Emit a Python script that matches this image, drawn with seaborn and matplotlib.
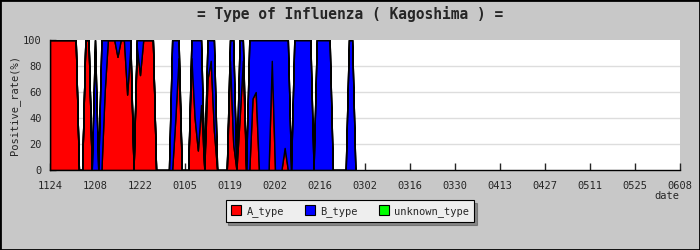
import matplotlib
matplotlib.use("Agg")
import matplotlib.pyplot as plt
import seaborn as sns
import numpy as np
from matplotlib.patches import Rectangle, Patch

# ---- data (percent per day, starting 11/24) ----
a_type = [100, 100, 100, 100, 100, 100, 100, 100, 100, 0,
          0, 100, 100, 0, 0, 0, 0, 60, 100, 100,
          100, 87, 100, 100, 58, 95, 0, 95, 73, 100,
          100, 100, 100, 0, 0, 0, 0, 0, 0, 40,
          86, 0, 0, 0, 86, 40, 15, 50, 0, 70,
          84, 30, 0, 0, 0, 0, 84, 20, 0, 40,
          84, 0, 0, 55, 60, 0, 0, 0, 0, 84,
          0, 0, 0, 17, 0, 0, 0, 0, 0, 0,
          0, 0, 0, 0, 0, 0, 0, 0, 0, 0,
          0, 0, 0, 0, 0, 0]
b_type = [0, 0, 0, 0, 0, 0, 0, 0, 0, 0,
          0, 0, 0, 0, 100, 0, 100, 40, 0, 0,
          0, 13, 0, 0, 42, 5, 0, 5, 27, 0,
          0, 0, 0, 0, 0, 0, 0, 0, 100, 60,
          14, 0, 0, 0, 14, 60, 85, 50, 0, 30,
          16, 70, 0, 0, 0, 0, 16, 80, 0, 60,
          16, 0, 100, 45, 40, 100, 100, 100, 100, 16,
          100, 100, 100, 83, 100, 0, 100, 100, 100, 100,
          100, 100, 0, 100, 100, 100, 100, 100, 0, 0,
          0, 0, 0, 100, 100, 0]
unknown_type = [0] * len(a_type)
tick_labels = ["1124", "1208", "1222", "0105", "0119", "0202", "0216", "0302",
               "0316", "0330", "0413", "0427", "0511", "0525", "0608"]
series_names = ["A_type", "B_type", "unknown_type"]
series_colors = ["#ff0000", "#0000ff", "#00ff00"]

sns.set_style("white")
plt.rcParams['font.family'] = ['DejaVu Sans Mono', 'DejaVu Sans']

days = np.arange(len(a_type))
fig = plt.figure(figsize=(7, 2.5), dpi=100, facecolor="#c8c8c8")
ax = fig.add_axes([50/700, 80/250, 630/700, 130/250])
ax.set_facecolor("white")

polys = ax.stackplot(days, a_type, b_type, unknown_type, colors=series_colors,
                     edgecolor="black", linewidth=1.0, zorder=2)
for p in polys:
    p.set_antialiased(False)

ax.set_xlim(0, 14 * (len(tick_labels) - 1))
ax.set_ylim(0, 100)
ax.set_xticks(np.arange(len(tick_labels)) * 14)
ax.set_xticklabels(tick_labels, fontsize=7.5)
ax.set_yticks([0, 20, 40, 60, 80, 100])
ax.set_yticks(np.arange(0, 101, 10), minor=True)
ax.tick_params(axis="y", which="both", direction="in", length=4, width=1,
               labelsize=7.5, pad=6, left=True)
ax.tick_params(axis="x", which="major", direction="in", length=5, width=1,
               pad=8, bottom=True)
for yv in [20, 40, 60, 80]:
    ax.axhline(yv, color="#dddddd", linewidth=1, zorder=1)
for side in ["top", "right"]:
    ax.spines[side].set_visible(False)
for side in ["left", "bottom"]:
    ax.spines[side].set_color("black")
    ax.spines[side].set_linewidth(1)
    ax.spines[side].set_zorder(3)

ax.set_ylabel("Positive_rate(%)", fontsize=7.5)
ax.yaxis.set_label_coords(-30/630, 0.5)
fig.text(667/700, 1 - 196/250, "date", fontsize=7.5, ha="center", va="center")
fig.text(0.5, 1 - 14/250, "= Type of Influenza ( Kagoshima ) =", fontsize=10.5,
         fontweight="bold", ha="center", va="center")

handles = [Patch(facecolor=c, edgecolor="black", linewidth=0.8) for c in series_colors]
leg = fig.legend(handles, series_names, loc="center", bbox_to_anchor=(350/700, 1 - 211/250),
                 ncol=3, fontsize=7.5, frameon=True, fancybox=False, shadow=True,
                 handlelength=1.0, handleheight=1.0, handletextpad=0.5,
                 columnspacing=2.0, borderpad=0.5, borderaxespad=0)
leg.get_frame().set_facecolor("#eeeeee")
leg.get_frame().set_edgecolor("black")
leg.get_frame().set_linewidth(0.8)

fig.patches.append(Rectangle((0, 0), 1, 1, transform=fig.transFigure, fill=False,
                             edgecolor="black", linewidth=2))
fig.savefig("out.png", dpi=100, facecolor=fig.get_facecolor())
